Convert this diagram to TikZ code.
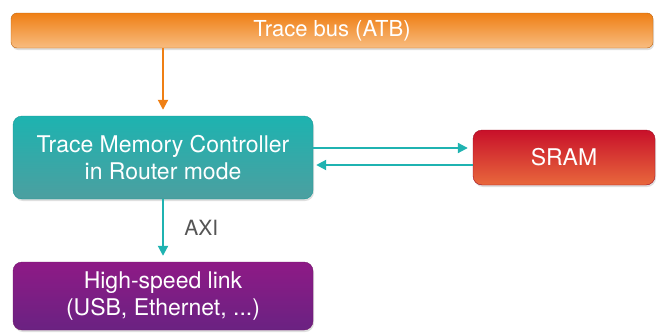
\documentclass[tikz,border=0pt]{standalone}
\usepackage{fontspec}
\setmainfont{TeX Gyre Heros}
\usetikzlibrary{arrows.meta,positioning,shadows}
\definecolor{BusTop}{HTML}{EF7F14}
\definecolor{BusBot}{HTML}{F8BC80}
\definecolor{TmcTop}{HTML}{1DB3B0}
\definecolor{TmcBot}{HTML}{4C9FA0}
\definecolor{TmcLine}{HTML}{1FB3B1}
\definecolor{SramTop}{HTML}{C8102A}
\definecolor{SramBot}{HTML}{E8683C}
\definecolor{LinkTop}{HTML}{8E1A86}
\definecolor{LinkBot}{HTML}{6A2282}
\definecolor{AxiGray}{HTML}{555555}

\begin{document}
\begin{tikzpicture}[
    x=1pt,y=-1pt,
    box/.style={rounded corners=9pt,inner sep=0pt,align=center,text=white,
      font=\fontsize{23}{27}\selectfont,
      drop shadow={shadow xshift=1pt,shadow yshift=-2pt,opacity=0.25}},
    bus/.style={box,top color=BusTop,bottom color=BusBot,draw=BusTop!80!black,
      minimum width=642pt,minimum height=35pt,rounded corners=6pt,
      font=\fontsize{22}{27}\selectfont},
    tmc/.style={box,top color=TmcTop,bottom color=TmcBot,draw=TmcTop!85!black,
      minimum width=300pt,minimum height=83pt},
    sram/.style={box,top color=SramTop,bottom color=SramBot,draw=SramTop!80!black,
      minimum width=182pt,minimum height=55pt},
    link/.style={box,top color=LinkTop,bottom color=LinkBot,draw=LinkTop!80!black,
      minimum width=300pt,minimum height=68pt},
    arrow/.style={-{Triangle[length=10pt,width=10pt]},line width=2pt},
  ]
    \useasboundingbox (0,0) rectangle (658,332);
    \node[bus] (bus) at (332,30.5) {Trace bus (ATB)};
    \node[tmc] (tmc) at (163,157.5) {Trace Memory Controller\\in Router mode};
    \node[sram] (sram) at (564,157.5) {SRAM};
    \node[link] (link) at (163,296) {High-speed link\\(USB, Ethernet, ...)};
    \draw[arrow,draw=BusTop] (bus.south -| tmc.north) -- ([yshift=6pt]tmc.north);
    \draw[arrow,draw=TmcLine,shorten >=5pt] ([yshift=9.5pt]tmc.east) -- ([yshift=9.5pt]sram.west);
    \draw[arrow,draw=TmcLine,shorten >=3pt] ([yshift=-7.5pt]sram.west) -- ([yshift=-7.5pt]tmc.east);
    \draw[arrow,draw=TmcLine] (tmc.south) -- ([yshift=6pt]link.north)
      node[midway,right=17pt,text=AxiGray,font=\fontsize{21}{25}\selectfont] (axi) {AXI};
  \end{tikzpicture}
\end{document}
